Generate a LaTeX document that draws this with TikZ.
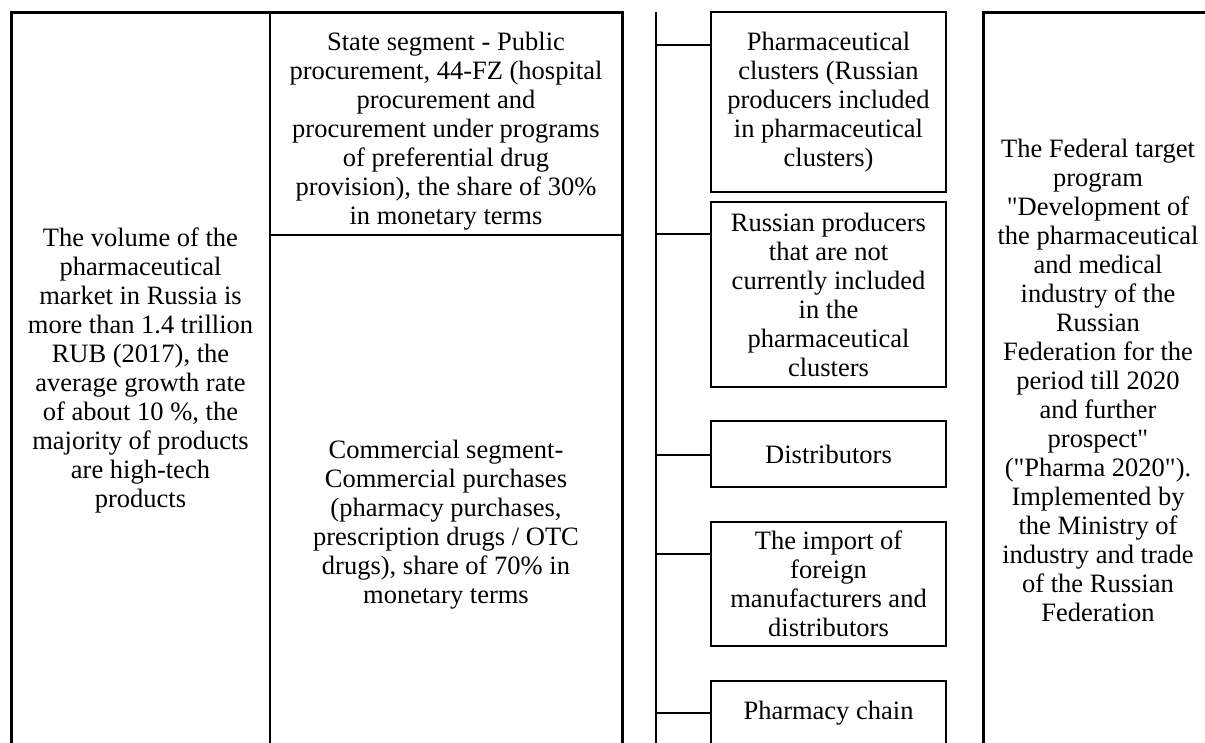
\documentclass[tikz,border=0pt]{standalone}
\usepackage{fontspec}
\setmainfont{Liberation Serif}
\newcommand{\dq}{\textquotedbl}
\begin{document}
\begin{tikzpicture}[x=1pt,y=-1pt,
  frame/.style={line width=3pt},
  rule/.style={line width=2.3pt},
  txt/.style={align=center, font=\fontsize{26.5}{29}\selectfont, inner sep=0pt},
  item/.style={draw, line width=2.3pt, minimum width=235pt, txt},
  link/.style={line width=2.3pt}]
\useasboundingbox (0,0) rectangle (1205,742);
\clip (0,0) rectangle (1205,742);

% market table on the left
\draw[frame] (11,780) |- (622,12) -- (622,780);
\draw[rule] (270,12) -- (270,780);
\draw[rule] (270,235) -- (622,235);

\node[txt] (vol) at (140.5,370) {The volume of the\\pharmaceutical\\market in Russia is\\more than 1.4 trillion\\RUB (2017), the\\average growth rate\\of about 10 \%, the\\majority of products\\are high-tech\\products};
\node[txt] (state) at (446,131) {State segment - Public\\procurement, 44-FZ (hospital\\procurement and\\procurement under programs\\of preferential drug\\provision), the share of 30\%\\in monetary terms};
\node[txt] (comm) at (446,525) {Commercial segment-\\Commercial purchases\\(pharmacy purchases,\\prescription drugs / OTC\\drugs), share of 70\% in\\monetary terms};

% market participants hanging from a common bus
\draw[rule] (656,12) -- (656,780);
\node[item, minimum height=180pt] (b1) at (828.5,102) {Pharmaceutical\\clusters (Russian\\producers included\\in pharmaceutical\\clusters)};
\node[item, minimum height=185pt] (b2) at (828.5,294.5) {Russian producers\\that are not\\currently included\\in the\\pharmaceutical\\clusters};
\node[item, minimum height=66pt] (b3) at (828.5,454) {Distributors};
\node[item, minimum height=124pt] (b4) at (828.5,584) {The import of\\foreign\\manufacturers and\\distributors};
\node[item, minimum height=64pt] (b5) at (828.5,713) {Pharmacy chain};

\coordinate (j1) at (656,45);
\coordinate (j2) at (656,234);
\coordinate (j3) at (656,455);
\coordinate (j4) at (656,554);
\coordinate (j5) at (656,713);
\foreach \i in {1,...,5} \draw[link] (j\i) -- (j\i -| b\i.west);

% federal program frame on the right
\draw[frame] (983,780) |- (1215,12);
\node[txt] (fed) at (1098,380) {The Federal target\\program\\\dq Development of\\the pharmaceutical\\and medical\\industry of the\\Russian\\Federation for the\\period till 2020\\and further\\prospect\dq\\(\dq Pharma 2020\dq).\\Implemented by\\the Ministry of\\industry and trade\\of the Russian\\Federation};
\end{tikzpicture}
\end{document}
